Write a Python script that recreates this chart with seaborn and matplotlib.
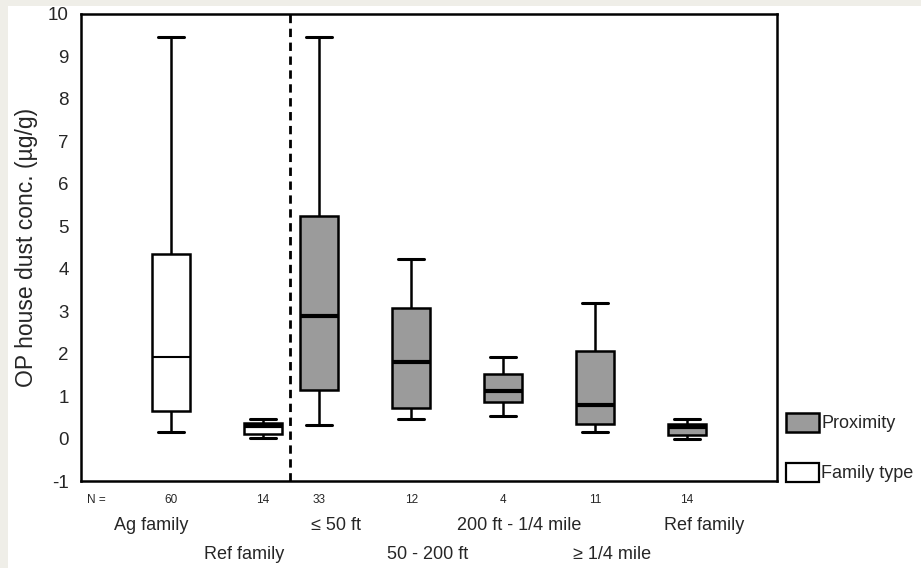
import numpy as np
import pandas as pd
import matplotlib
matplotlib.use("Agg")
import matplotlib.pyplot as plt
from matplotlib.patches import Patch, Rectangle
import seaborn as sns

# ---------------- data ----------------
groups = ["Ag family", "Ref family", "≤ 50 ft", "50 - 200 ft",
          "200 ft - 1/4 mile", "≥ 1/4 mile", "Ref family"]
kinds = ["Family type", "Family type", "Proximity", "Proximity",
         "Proximity", "Proximity", "Proximity"]
n_counts = [60, 14, 33, 12, 4, 11, 14]
mins = [0.16, 0.02, 0.31, 0.45, 0.54, 0.16, 0.00]
q1s = [0.65, 0.10, 1.15, 0.71, 0.85, 0.35, 0.09]
meds = [1.93, 0.30, 2.89, 1.81, 1.13, 0.80, 0.28]
q3s = [4.35, 0.36, 5.25, 3.08, 1.53, 2.07, 0.35]
maxs = [9.45, 0.46, 9.45, 4.22, 1.93, 3.20, 0.45]
yticks = list(range(-1, 11))

# ---------------- layout / style ----------------
xpos = [0.0, 1.0, 1.61, 2.61, 3.61, 4.61, 5.61]
label_shift = {"Family type": -0.21, "Proximity": 0.18}
label_row = [0, 1, 0, 1, 0, 1, 0]
fills = {"Proximity": "#9b9b9b", "Family type": "#ffffff"}
median_lw = [1.5, 3.0, 3.0, 3.0, 3.0, 3.0, 3.0]
FONT = ["Liberation Sans", "DejaVu Sans"]

sns.set_theme(style="white")
plt.rcParams["font.family"] = FONT

W, H = 921, 568
fig = plt.figure(figsize=(W / 100, H / 100), dpi=100)
fig.patch.set_facecolor("#efeee8")
fig.add_artist(Rectangle((8 / W, 0), 1 - 8 / W, 1 - 6 / H,
                         transform=fig.transFigure, facecolor="white",
                         edgecolor="none", zorder=-10))

ax_l, ax_r, ax_t, ax_b = 81, 777, 14, 481
ax = fig.add_axes([ax_l / W, 1 - ax_b / H, (ax_r - ax_l) / W, (ax_b - ax_t) / H])
ax.set_facecolor("white")

for i in range(len(groups)):
    vals = [mins[i], q1s[i], meds[i], q3s[i], maxs[i]]
    df = pd.DataFrame({"x": [xpos[i]] * 5, "y": vals})
    sns.boxplot(data=df, x="x", y="y", native_scale=True, whis=(0, 100),
                width=0.41, color=fills[kinds[i]], saturation=1,
                linecolor="black", linewidth=1.8, showfliers=False,
                medianprops=dict(linewidth=median_lw[i], color="black"),
                capprops=dict(linewidth=2.2), ax=ax)

# fix caps width
for line in ax.lines:
    xd = np.asarray(line.get_xdata(), dtype=float)
    yd = np.asarray(line.get_ydata(), dtype=float)
    if len(xd) == 2 and yd[0] == yd[1] and 0 < abs(xd[1] - xd[0]) < 0.3:
        c = xd.mean()
        line.set_xdata([c - 0.145, c + 0.145])

xmin = xpos[0] - (171 - ax_l) / 92
xmax = xpos[0] + (ax_r - 171) / 92
ax.set_xlim(xmin, xmax)
ax.set_ylim(-1, 10)
ax.set_yticks(yticks)
ax.set_yticklabels([str(t) for t in yticks], fontsize=13.5)
ax.tick_params(axis="y", direction="out", length=7, width=2.2, color="black", pad=2)
tick_x = [xpos[i] + label_shift[kinds[i]] for i in range(len(groups))]
ax.set_xticks(tick_x)
ax.set_xticklabels([])
ax.tick_params(axis="x", direction="in", length=2, width=2, color="black")
ax.set_xlabel("")
ax.set_ylabel("OP house dust conc. (µg/g)", fontsize=16.5, labelpad=7)
for s in ax.spines.values():
    s.set_color("black")
    s.set_linewidth(1.8)
    s.set_visible(True)

# dashed separator
ax.axvline(1.293, color="black", linewidth=2, dashes=(3, 2))

# N labels and category labels
trans = ax.get_xaxis_transform()
ax.text(xmin + 0.06, -0.027, "N =", transform=trans, fontsize=8.5,
        ha="left", va="top")
for i in range(len(groups)):
    ax.text(xpos[i], -0.027, str(n_counts[i]), transform=trans, fontsize=8.5,
            ha="center", va="top")
    yy = -0.077 if label_row[i] == 0 else -0.139
    ax.text(tick_x[i], yy, groups[i], transform=trans, fontsize=13,
            ha="center", va="top")

# legend
handles = [Patch(facecolor=fills["Proximity"], edgecolor="black", linewidth=1.8,
                 label="Proximity"),
           Patch(facecolor=fills["Family type"], edgecolor="black", linewidth=1.6,
                 label="Family type")]
fig.legend(handles=handles, loc="upper left",
           bbox_to_anchor=(786 / W, 1 - 413 / H), frameon=False,
           fontsize=13, handlelength=1.85, handleheight=1.2,
           handletextpad=0.1, labelspacing=1.7, borderpad=0, borderaxespad=0)

fig.savefig("out.png", dpi=100, facecolor=fig.get_facecolor())
